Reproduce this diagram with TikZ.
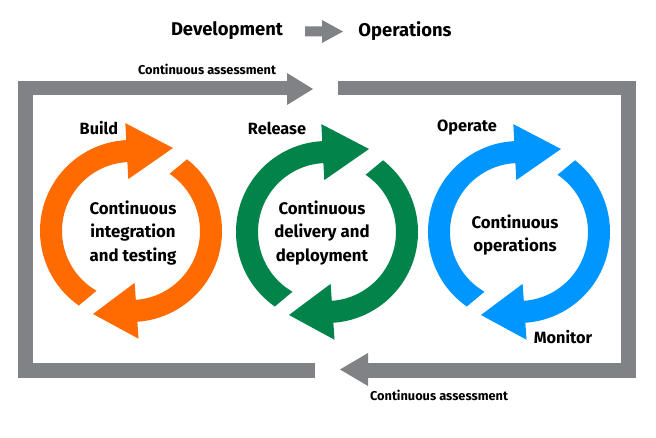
\documentclass[tikz,border=0pt]{standalone}
\usepackage{fontspec}
\setmainfont{Fira Sans}
\definecolor{hporange}{HTML}{FF6B00}
\definecolor{hpgreen}{HTML}{01834A}
\definecolor{hpblue}{HTML}{0096FF}
\definecolor{hpgray}{HTML}{808285}
\tikzset{
  frame/.style={draw=hpgray, line width=14.5pt, line join=miter},
  headfill/.style={fill=hpgray},
  ringtext/.style={font=\bfseries\fontsize{16.8}{23.5}\selectfont, align=center},
  lbl/.style={font=\bfseries\fontsize{16.3}{18}\selectfont},
  asst/.style={font=\bfseries\fontsize{12.8}{14}\selectfont},
  heading/.style={font=\bfseries\fontsize{18.4}{20}\selectfont},
  pics/cyc/.style={code={
    \fill[#1] (235:91) arc[start angle=235, end angle=93, radius=91]
      -- (93:108) -- (42,83) -- (93:52) -- (93:69)
      arc[start angle=93, end angle=240, radius=69] -- cycle;
    \fill[#1] (52:91) arc[start angle=52, end angle=-86, radius=91]
      -- (-86:108) -- (-38,-83) -- (-86:52) -- (-86:69)
      arc[start angle=-86, end angle=56, radius=69] -- cycle;
  }}
}
\begin{document}
\begin{tikzpicture}[x=1pt, y=-1pt]
\path[use as bounding box, fill=white] (0,0) rectangle (656,438);

% headline
\node[heading] (dev) at (227,31) {Development};
\node[heading] (ops) at (405,31) {Operations};
\fill[headfill] (305,26.5) -- (322,26.5) -- (322,20) -- (343,31.5) -- (322,43) -- (322,36.5) -- (305,36.5) -- cycle;

% frame
\draw[frame] (315,370.5) -- (25.5,370.5) -- (25.5,88) -- (288,88);
\fill[headfill] (287,73) -- (313,89) -- (287,105) -- cycle;
\draw[frame] (338,88) -- (628.5,88) -- (628.5,370.5) -- (367,370.5);
\fill[headfill] (368,353) -- (340,369.5) -- (368,386) -- cycle;

\node[asst] (ca1) at (207,69) {Continuous assessment};
\node[asst] (ca2) at (439,395) {Continuous assessment};

% rings
\pic[shift={(131,231)}, yscale=-1] {cyc=hporange};
\pic[shift={(327,232)}, yscale=-1] {cyc=hpgreen};
\pic[shift={(519,232)}, yscale=-1] {cyc=hpblue};

\node[ringtext] (ci) at (133,233) {Continuous\\integration\\and testing};
\node[ringtext] (cd) at (322,233) {Continuous\\delivery and\\deployment};
\node[ringtext] (co) at (515,235) {Continuous\\operations};

\node[lbl] (build) at (99,128) {Build};
\node[lbl] (release) at (277,128) {Release};
\node[lbl] (operate) at (467,128) {Operate};
\node[lbl] (monitor) at (563,337) {Monitor};
\end{tikzpicture}
\end{document}
